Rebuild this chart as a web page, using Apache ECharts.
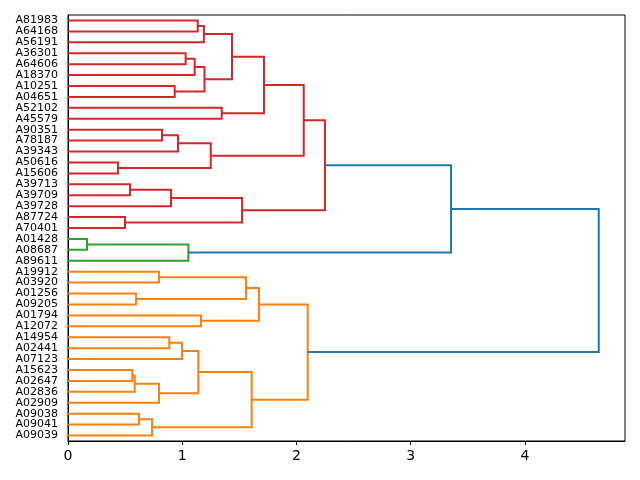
<!DOCTYPE html>
<html>
<head>
<meta charset="utf-8">
<script src="https://cdn.jsdelivr.net/npm/echarts@6/dist/echarts.min.js"></script>
<style>html,body{margin:0;padding:0;background:#fff}#c{width:640px;height:480px}</style>
</head>
<body>
<div id="c"></div>
<script>
// Leaves in display order, top to bottom
const leaves = ["A81983","A64168","A56191","A36301","A64606","A18370","A10251","A04651","A52102","A45579",
  "A90351","A78187","A39343","A50616","A15606","A39713","A39709","A39728","A87724","A70401",
  "A01428","A08687","A89611","A19912","A03920","A01256","A09205","A01794","A12072","A14954",
  "A02441","A07123","A15623","A02647","A02836","A02909","A09038","A09041","A09039"];
// Merges (ids < 39 are leaves, id 39+k is merge k)
const leftChild  = [0,39,3,41,6,42,40,8,45,10,48,13,49,47,15,53,18,54,52,20,58,57,23,25,61,27,63,29,66,32,68,69,67,36,72,71,65,60];
const rightChild = [1,2,4,5,7,43,44,9,46,11,12,14,50,51,16,17,19,55,56,21,22,59,24,26,62,28,64,30,31,33,34,35,70,37,38,73,74,75];
const mergeHeight = [1.136,1.19,1.03,1.109,0.934,1.195,1.436,1.346,1.716,0.823,0.963,0.438,1.25,2.064,0.543,0.902,0.499,1.524,2.25,
  0.166,1.054,3.354,0.797,0.595,1.559,1.165,1.672,0.887,0.998,0.563,0.584,0.797,1.141,0.622,0.736,1.608,2.099,4.647];
const mergeColor = ["r","r","r","r","r","r","r","r","r","r","r","r","r","r","r","r","r","r","r",
  "g","g","b","o","o","o","o","o","o","o","o","o","o","o","o","o","o","o","b"];
const xTicks = [0,1,2,3,4];
const xMax = 4.877;

const palette = {r:"#d62728", g:"#2ca02c", b:"#1f77b4", o:"#ff7f0e"};
const N = leaves.length;
const pos = [], ht = [];
for (let i = 0; i < N; i++) { pos.push(i); ht.push(0); }
const data = [];
for (let k = 0; k < mergeHeight.length; k++) {
  const l = leftChild[k], r = rightChild[k], h = mergeHeight[k];
  data.push({value:[ht[l], pos[l], h, pos[l], h, pos[r], ht[r], pos[r]], color: palette[mergeColor[k]]});
  pos.push((pos[l] + pos[r]) / 2);
  ht.push(h);
}

const chart = echarts.init(document.getElementById('c'), null, {renderer:'canvas'});
const font = 'DejaVu Sans';
chart.setOption({
  animation: false,
  grid: {left:68, top:15, right:15, bottom:39, show:true, borderColor:'#000', borderWidth:1, backgroundColor:'transparent'},
  xAxis: {
    type:'value', min:0, max:xMax, position:'bottom',
    axisLine:{show:true, onZero:false, lineStyle:{color:'#000', width:1}},
    axisTick:{show:true, length:4, customValues:xTicks, lineStyle:{color:'#000'}},
    axisLabel:{customValues:xTicks, color:'#000', fontSize:14, fontFamily:font, margin:8},
    splitLine:{show:false}
  },
  yAxis: [
    {type:'value', min:-0.5, max:N-0.5, inverse:true, show:false, axisLine:{onZero:false}},
    {type:'category', data:leaves, inverse:true, position:'left',
     axisLine:{show:true, onZero:false, lineStyle:{color:'#000', width:1}},
     axisTick:{show:false},
     axisLabel:{color:'#000', fontSize:11, fontFamily:font, margin:10, interval:0},
     splitLine:{show:false}}
  ],
  series: [{
    type:'custom',
    xAxisIndex:0, yAxisIndex:0,
    clip:false,
    encode:{x:[0,2,4,6], y:[1,3,5,7]},
    data: data,
    renderItem: function(params, api) {
      const pts = [];
      for (let j = 0; j < 4; j++) pts.push(api.coord([api.value(2*j), api.value(2*j+1)]));
      return {type:'polyline', shape:{points:pts}, style:{stroke:data[params.dataIndex].color, lineWidth:2, fill:null}};
    }
  }]
});
</script>
</body>
</html>
